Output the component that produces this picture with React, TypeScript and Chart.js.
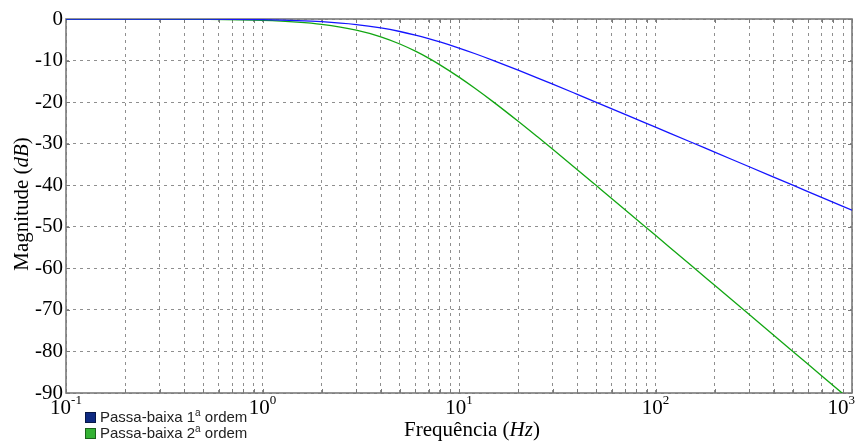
import React, { useEffect, useRef } from "react";
import { Chart, registerables } from "chart.js";

Chart.register(...registerables);

// Frequency samples (Hz) and magnitudes (dB)
const frequencies = [0.1, 0.2, 0.5, 1, 1.5, 2, 3, 4, 5, 6, 7, 8, 10, 12, 15, 20, 25, 30, 40, 50, 70, 100, 150, 200, 300, 500, 700, 1000];
const firstOrderDb = [0, -0.01, -0.04, -0.17, -0.37, -0.64, -1.34, -2.15, -3.01, -3.87, -4.71, -5.51, -6.99, -8.3, -10.0, -12.3, -14.15, -15.68, -18.13, -20.04, -22.94, -26.03, -29.54, -32.04, -35.56, -40.0, -42.92, -46.02];
const secondOrderDb = [0, -0.01, -0.09, -0.34, -0.75, -1.29, -2.69, -4.3, -6.02, -7.75, -9.42, -11.03, -13.98, -16.6, -20.0, -24.61, -28.3, -31.36, -36.26, -40.09, -45.88, -52.06, -59.08, -64.08, -71.13, -80.0, -85.84, -92.04];

const yTickValues = [0, -10, -20, -30, -40, -50, -60, -70, -80, -90];
const xDecades = [0.1, 1, 10, 100, 1000];
const xDecadeExponents = ["-1", "0", "1", "2", "3"];
const xMinorMultipliers = [1, 2, 3, 4, 5, 6, 7, 8, 9];

const seriesNames = ["Passa-baixa 1", "Passa-baixa 2"];
const seriesSuffix = "ordem";
const xTitleParts: [string, boolean][] = [["Frequência (", false], ["Hz", true], [")", false]];
const yTitleParts: [string, boolean][] = [["Magnitude (", false], ["dB", true], [")", false]];

const lineColors = ["#1414ff", "#12a612"];
const legendColors = ["#0f2a82", "#34b234"];

const SERIF = '"Liberation Serif", "Times New Roman", Times, serif';
const SANS = '"Liberation Sans", Arial, Helvetica, sans-serif';

function drawParts(ctx: CanvasRenderingContext2D, parts: [string, boolean][], cx: number, y: number, size: number) {
  let total = 0;
  const widths = parts.map(([t, it]) => {
    ctx.font = `${it ? "italic " : ""}${size}px ${SERIF}`;
    const w = ctx.measureText(t).width;
    total += w;
    return w;
  });
  let x = cx - total / 2;
  parts.forEach(([t, it], i) => {
    ctx.font = `${it ? "italic " : ""}${size}px ${SERIF}`;
    ctx.fillText(t, x, y);
    x += widths[i];
  });
}

const framePlugin = {
  id: "frameAndLabels",
  beforeDatasetsDraw(chart: any) {
    const { ctx, chartArea: a, scales } = chart;
    ctx.save();
    ctx.strokeStyle = "#7a7a7a";
    ctx.setLineDash([]);
    ctx.lineWidth = 1;
    // inward ticks
    const xs = scales.x;
    xs.ticks.forEach((t: any) => {
      const px = Math.round(xs.getPixelForValue(t.value)) + 0.5;
      ctx.beginPath();
      ctx.moveTo(px, a.bottom);
      ctx.lineTo(px, a.bottom - 4);
      ctx.moveTo(px, a.top);
      ctx.lineTo(px, a.top + 4);
      ctx.stroke();
    });
    const ys = scales.y;
    ys.ticks.forEach((t: any) => {
      const py = Math.round(ys.getPixelForValue(t.value)) + 0.5;
      ctx.beginPath();
      ctx.moveTo(a.left, py);
      ctx.lineTo(a.left + 4, py);
      ctx.moveTo(a.right, py);
      ctx.lineTo(a.right - 4, py);
      ctx.stroke();
    });
    ctx.lineWidth = 1.6;
    ctx.strokeRect(a.left, a.top, a.right - a.left, a.bottom - a.top);
    ctx.restore();
  },
  afterDraw(chart: any) {
    const { ctx, scales } = chart;
    const xs = scales.x;
    ctx.save();
    ctx.fillStyle = "#000";
    ctx.textBaseline = "alphabetic";
    ctx.textAlign = "left";
    xDecades.forEach((v, i) => {
      const px = xs.getPixelForValue(v);
      ctx.font = `21px ${SERIF}`;
      const wb = ctx.measureText("10").width;
      ctx.font = `13px ${SERIF}`;
      const we = ctx.measureText(xDecadeExponents[i]).width;
      let x0 = px - (wb + we) / 2;
      if (x0 + wb + we > chart.width - 1) x0 = chart.width - 1 - wb - we;
      ctx.font = `21px ${SERIF}`;
      ctx.fillText("10", x0, 414);
      ctx.font = `13px ${SERIF}`;
      ctx.fillText(xDecadeExponents[i], x0 + wb, 404);
    });
    drawParts(ctx, xTitleParts, 472, 436, 21);
    ctx.translate(28, 204);
    ctx.rotate(-Math.PI / 2);
    drawParts(ctx, yTitleParts, 0, 0, 21);
    ctx.restore();
  },
};

export default function App() {
  const ref = useRef<HTMLCanvasElement | null>(null);

  useEffect(() => {
    if (!ref.current) return;
    const xGrid: number[] = [];
    xDecades.slice(0, -1).forEach((d) => xMinorMultipliers.forEach((m) => xGrid.push(m * d)));
    xGrid.push(xDecades[xDecades.length - 1]);

    const chart = new Chart(ref.current, {
      type: "line",
      data: {
        datasets: [firstOrderDb, secondOrderDb].map((vals, i) => ({
          label: seriesNames[i],
          data: frequencies.map((f, j) => ({ x: f, y: vals[j] })),
          borderColor: lineColors[i],
          backgroundColor: lineColors[i],
          borderWidth: 1.3,
          pointRadius: 0,
          cubicInterpolationMode: "monotone" as const,
          fill: false,
        })),
      },
      options: {
        animation: false,
        responsive: false,
        maintainAspectRatio: false,
        layout: { padding: { top: 19, right: 4, left: 0, bottom: 0 } },
        plugins: { legend: { display: false }, tooltip: { enabled: false } },
        scales: {
          x: {
            type: "logarithmic",
            min: 0.1,
            max: 1000,
            afterBuildTicks: (s: any) => {
              s.ticks = xGrid.map((v) => ({ value: v }));
            },
            afterFit: (s: any) => {
              s.height = 49;
            },
            ticks: { display: false, autoSkip: false },
            grid: { color: "#8f8f8f", lineWidth: 1, drawTicks: false },
            border: { display: false, dash: [3, 4] },
          },
          y: {
            type: "linear",
            min: -90,
            max: 0,
            afterBuildTicks: (s: any) => {
              s.ticks = yTickValues.map((v) => ({ value: v }));
            },
            afterFit: (s: any) => {
              s.width = 66;
            },
            ticks: {
              color: "#000",
              font: { family: SERIF, size: 21 },
              padding: 3,
              callback: (v: any) => String(v),
            },
            grid: { color: "#8f8f8f", lineWidth: 1, drawTicks: false },
            border: { display: false, dash: [3, 4] },
          },
        },
      },
      plugins: [framePlugin],
    });
    return () => chart.destroy();
  }, []);

  return (
    <div style={{ position: "fixed", left: 0, top: 0, width: 856, height: 442, background: "#fff" }}>
      <canvas ref={ref} width={856} height={442} style={{ position: "absolute", left: 0, top: 0 }} />
      <div style={{ position: "absolute", left: 85, top: 409, fontFamily: SANS, fontSize: 15, color: "#222", lineHeight: "16px" }}>
        {seriesNames.map((n, i) => (
          <div key={n} style={{ display: "flex", alignItems: "center", height: 16 }}>
            <span
              style={{
                display: "inline-block",
                width: 9,
                height: 9,
                background: legendColors[i],
                border: "1px solid rgba(0,0,0,0.45)",
                marginRight: 4,
              }}
            />
            <span>
              {n}
              <sup style={{ fontSize: 10, verticalAlign: "top", lineHeight: "10px", position: "relative", top: -1 }}>a</sup>{" "}
              {seriesSuffix}
            </span>
          </div>
        ))}
      </div>
    </div>
  );
}
